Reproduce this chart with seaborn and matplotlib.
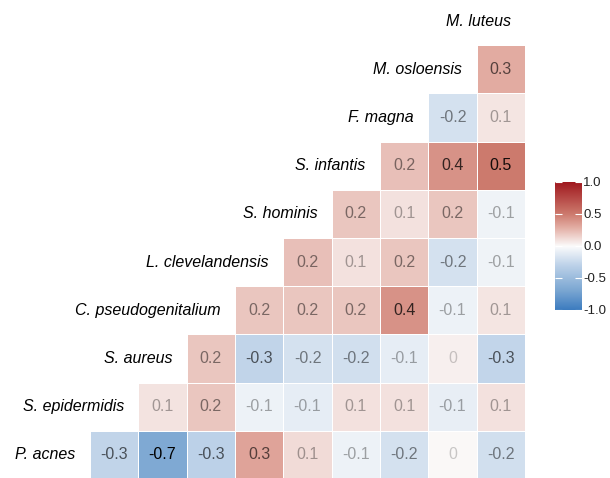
import numpy as np
import matplotlib.pyplot as plt
import seaborn as sns
from matplotlib.colors import LinearSegmentedColormap

# taxa, bottom row first (also the order of the diagonal labels)
taxa = ['P. acnes', 'S. epidermidis', 'S. aureus', 'C. pseudogenitalium',
	'L. clevelandensis', 'S. hominis', 'S. infantis', 'F. magna',
	'M. osloensis', 'M. luteus']

# correlations of each taxon with the taxa that come after it in `taxa`
p_acnes = [-0.28, -0.66, -0.30, 0.33, 0.12, -0.07, -0.18, 0.01, -0.20]
s_epidermidis = [0.09, 0.20, -0.07, -0.10, 0.10, 0.10, -0.09, 0.10]
s_aureus = [0.20, -0.28, -0.18, -0.20, -0.10, 0.04, -0.27]
c_pseudogenitalium = [0.20, 0.20, 0.20, 0.40, -0.07, 0.08]
l_clevelandensis = [0.22, 0.10, 0.20, -0.18, -0.06]
s_hominis = [0.20, 0.10, 0.20, -0.06]
s_infantis = [0.22, 0.40, 0.50]
f_magna = [-0.18, 0.08]
m_osloensis = [0.30]

rows = [p_acnes, s_epidermidis, s_aureus, c_pseudogenitalium,
	l_clevelandensis, s_hominis, s_infantis, f_magna, m_osloensis]

cbar_ticks = [-1.0, -0.5, 0.0, 0.5, 1.0]

def fmt(v):
	s = '%.1f' % v
	return '0' if s in ('0.0', '-0.0') else s

def main():
	n = len(taxa)
	corr = np.full((n, n), np.nan)
	for r, vals in enumerate(rows):
		for k, v in enumerate(vals):
			corr[n - 1 - r, r + 1 + k] = v
	mask = np.isnan(corr)

	cmap = LinearSegmentedColormap.from_list('corr', [
		(0.0, '#3b7bbf'), (0.15, '#79a5d1'), (0.35, '#bcd1e8'),
		(0.5, '#fbfbfb'), (0.65, '#e2aba1'), (0.75, '#cd7b6e'),
		(1.0, '#a0191f')])

	fig = plt.figure(figsize=(6.1, 4.78), dpi=100)
	ax = fig.add_axes([41.7 / 610, -1 / 478, 483.3 / 610, 482 / 478])
	cax = fig.add_axes([555 / 610, (478 - 310) / 478, 27 / 610, 128 / 478])

	sns.heatmap(corr, mask=mask, cmap=cmap, vmin=-1, vmax=1,
		    linewidths=0.6, linecolor='white', cbar_ax=cax,
		    xticklabels=False, yticklabels=False, ax=ax)
	ax.set_xticks([])
	ax.set_yticks([])

	font = 'Liberation Sans'
	for i in range(n):
		for j in range(n):
			if mask[i, j]:
				continue
			v = corr[i, j]
			a = min(1.0, 0.2 + 1.4 * abs(round(v, 1)))
			ax.text(j + 0.5, i + 0.5, fmt(v), ha='center', va='center',
				fontsize=11.5, family=font, color='black', alpha=a)

	fig.canvas.draw()
	renderer = fig.canvas.get_renderer()
	for r, name in enumerate(taxa):
		t = ax.text(r + 0.7, n - 1 - r + 0.5, name, ha='right', va='center',
			    style='italic', fontsize=11.5, family=font, color='black')
		bb = t.get_window_extent(renderer)
		if bb.x0 < 12:
			# keep the label inside the figure
			x0, _ = ax.transData.inverted().transform((12 + bb.width, 0))
			t.set_x(x0)

	cb = ax.collections[0].colorbar
	cb.set_ticks(cbar_ticks)
	cb.set_ticklabels(['%.1f' % t for t in cbar_ticks])
	cb.outline.set_visible(False)
	cax.tick_params(direction='in', length=5, width=0.8, color='white',
			left=True, right=True, labelsize=9.5, labelcolor='#222222', pad=1)
	for lab in cax.get_yticklabels():
		lab.set_family(font)

	fig.savefig('out.png', dpi=100)

if __name__ == '__main__':
	main()
